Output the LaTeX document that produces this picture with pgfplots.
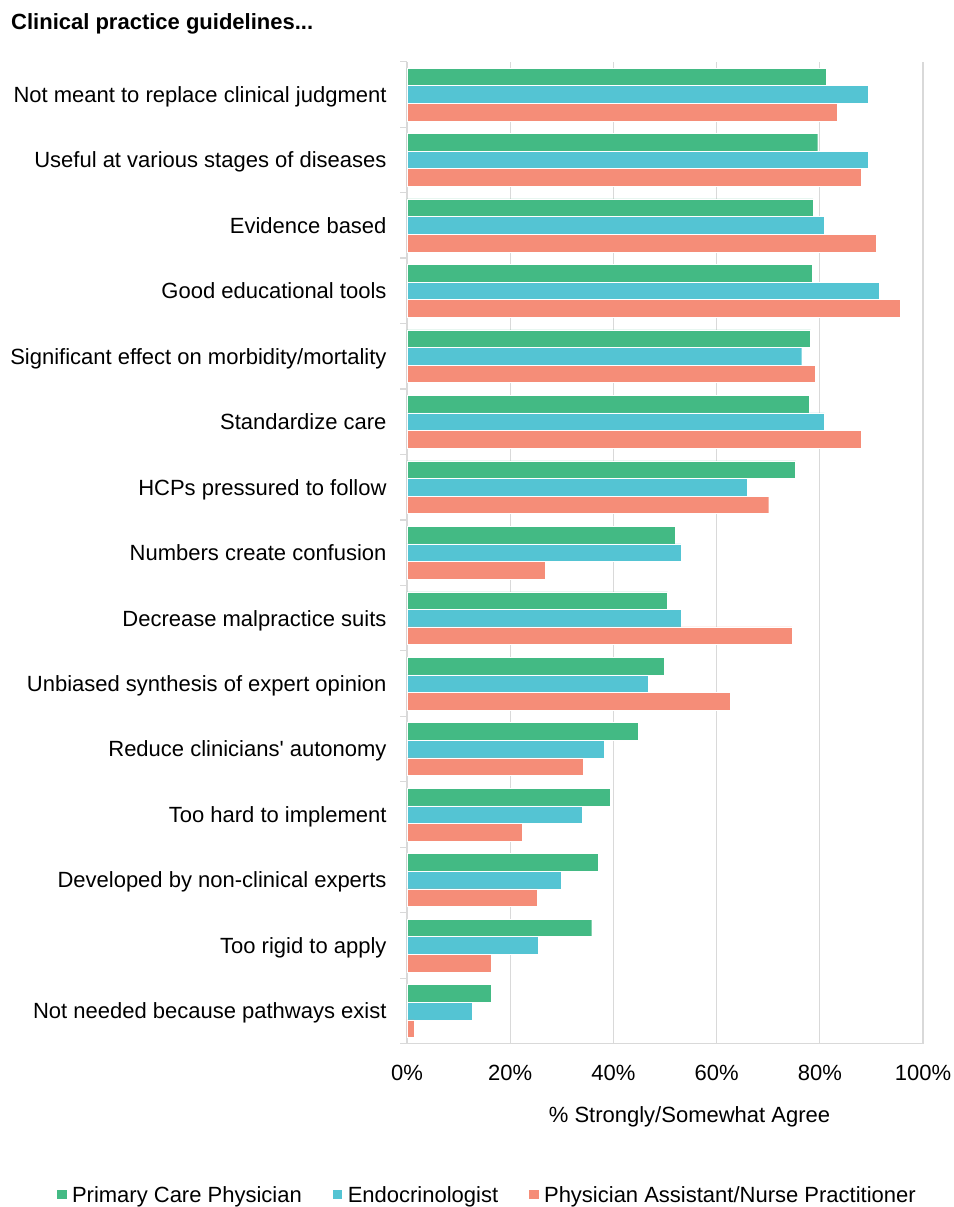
\documentclass[border=0pt]{standalone}
\usepackage{fontspec}
\setmainfont{Liberation Sans}
\newfontfamily\plainarial{Liberation Sans}
\usepackage{pgfplots}
\usepackage{pgfplotstable}
\pgfplotsset{compat=1.18}
\definecolor{cgreen}{RGB}{67,186,132}
\definecolor{ccyan}{RGB}{84,196,211}
\definecolor{csalmon}{RGB}{245,141,120}
\definecolor{cgrid}{RGB}{217,217,217}

\pgfplotstableread{
idx pcp endo pa
0 16.3 12.6 1.4
1 35.8 25.4 16.3
2 37.1 29.8 25.3
3 39.3 33.9 22.3
4 44.8 38.3 34.2
5 49.9 46.8 62.6
6 50.5 53.1 74.6
7 51.9 53.1 26.8
8 75.3 66.0 70.1
9 78.0 80.9 88.1
10 78.2 76.5 79.1
11 78.5 91.5 95.5
12 78.7 80.9 91.0
13 79.6 89.4 88.1
14 81.3 89.4 83.3
}\datatable

\begin{document}
\fontsize{22}{26}\selectfont
\begin{tikzpicture}[x=1pt,y=1pt]
\useasboundingbox (0,0) rectangle (953,1207);
\begin{axis}[
  at={(407pt,163.3pt)}, anchor=south west,
  scale only axis, width=516pt, height=982pt,
  xbar, bar width=17.6pt,
  xmin=0, xmax=100, ymin=-0.5, ymax=14.5,
  xtick={0,20,40,60,80,100},
  xticklabels={0\%,20\%,40\%,60\%,80\%,100\%},
  ytick={0,...,14},
  yticklabels={Not needed because pathways exist, Too rigid to apply, Developed by non-clinical experts, Too hard to implement, Reduce clinicians{\plainarial\char"27} autonomy, Unbiased synthesis of expert opinion, Decrease malpractice suits, Numbers create confusion, HCPs pressured to follow, Standardize care, Significant effect on morbidity/mortality, Good educational tools, Evidence based, Useful at various stages of diseases, Not meant to replace clinical judgment},
  minor ytick={-0.5,0.5,...,14.5},
  major tick length=0pt, minor tick length=7pt,
  tick align=outside,
  tick style={draw=cgrid, line width=1.2pt},
  xmajorgrids, grid style={draw=cgrid, line width=1.2pt},
  axis x line*=bottom, axis y line*=left,
  axis line style={draw=cgrid, line width=1.2pt, -},
  xticklabel style={anchor=base, inner sep=0pt, yshift=-36.8pt},
  yticklabel style={anchor=base east, inner sep=0pt, xshift=-20.3pt, yshift=-7.85pt},
  legend columns=3,
  legend style={at={(axis description cs:-0.68,-0.155)}, anchor=west, draw=none, fill=none, inner sep=0pt, outer sep=0pt,
    nodes={inner sep=0pt, anchor=base west},
    /tikz/every odd column/.append style={column sep=5pt},
    /tikz/every even column/.append style={column sep=30pt}},
  legend image code/.code={\fill[#1] (0pt,2.6pt) rectangle (10.5pt,13.1pt);},
]
\addplot[fill=cgreen, draw=white, line width=0.4pt, bar shift=17.6pt] table[x=pcp, y=idx] {\datatable};
\addplot[fill=ccyan, draw=white, line width=0.4pt, bar shift=0pt] table[x=endo, y=idx] {\datatable};
\addplot[fill=csalmon, draw=white, line width=0.4pt, bar shift=-17.6pt] table[x=pa, y=idx] {\datatable};
\legend{Primary Care Physician, Endocrinologist, Physician Assistant/Nurse Practitioner}
\end{axis}
\node[anchor=base west, inner sep=0pt, font=\bfseries] at (11,1177.7) {Clinical practice guidelines...};
\node[anchor=base, inner sep=0pt] at (689.5,84.5) {\% Strongly/Somewhat Agree};
\end{tikzpicture}
\end{document}
